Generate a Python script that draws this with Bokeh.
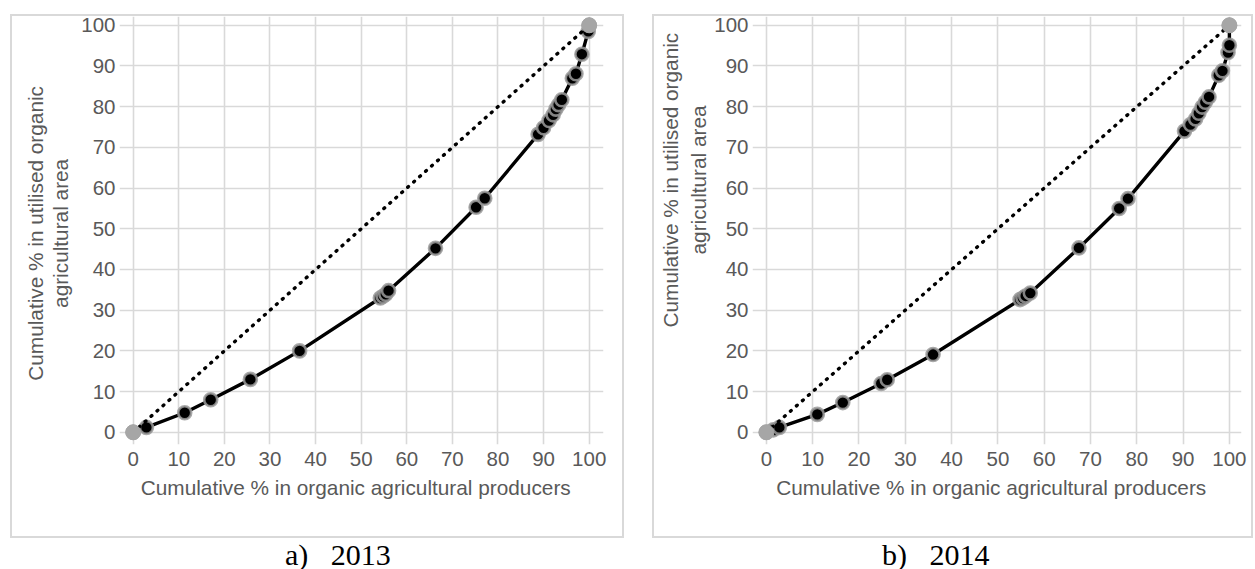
import math
from bokeh.plotting import figure
from bokeh.models import Range1d, SingleIntervalTicker, Title, Div
from bokeh.layouts import row, column
from bokeh.embed import file_html
from bokeh.resources import INLINE

# ---------------- data ----------------
# line of equality
eq_x = [0, 100]
eq_y = [0, 100]

# 2013 Lorenz curve (cumulative % producers, cumulative % area)
x13 = [0, 2.9, 11.3, 17.0, 25.7, 36.5, 54.2, 54.8, 55.4, 56.0, 66.3, 75.2, 77.1,
       88.8, 90.0, 91.2, 92.1, 92.7, 93.3, 94.0, 96.3, 97.1, 98.4, 99.8, 100]
y13 = [0, 1.2, 4.8, 8.0, 13.0, 20.0, 33.0, 33.4, 33.9, 34.8, 45.2, 55.3, 57.5,
       73.2, 74.8, 76.6, 78.0, 79.4, 80.5, 81.7, 87.0, 88.1, 92.9, 98.5, 100]

# 2014 Lorenz curve
x14 = [0, 1.5, 2.8, 11.0, 16.5, 24.8, 26.1, 36.0, 54.8, 55.4, 56.0, 57.0, 67.5,
       76.2, 78.1, 90.3, 91.6, 92.7, 93.4, 94.1, 94.8, 95.6, 97.7, 98.5, 99.7,
       100, 100]
y14 = [0, 0.6, 1.2, 4.4, 7.3, 12.0, 12.9, 19.1, 32.6, 33.0, 33.5, 34.2, 45.3,
       55.0, 57.4, 74.0, 75.6, 77.0, 78.4, 79.9, 81.1, 82.4, 87.7, 88.8, 93.3,
       95.1, 100]

x_title = "Cumulative  % in organic agricultural  producers"
y_title_lines = ["Cumulative  % in utilised organic", "agricultural  area"]
caption_labels = ["a)", "b)"]
caption_years = ["2013", "2014"]

FONT = "Liberation Sans"
TXT = "#595959"
GRID = "#d9d9d9"
TICK_FS = "20.5px"
TITLE_FS = "20.8px"


def panel(xs, ys, W, H, mbl, mbt, fw, fh, xscale, yscale, ytitle_mode, offsets=None):
    mbr = W - mbl - fw
    mbb = H - mbt - fh
    p = figure(width=W, height=H,
               x_range=Range1d(-3, -3 + fw / xscale),
               y_range=Range1d(-3, -3 + fh / yscale),
               output_backend="svg", toolbar_location=None,
               min_border_left=mbl, min_border_right=mbr,
               min_border_top=mbt, min_border_bottom=mbb,
               background_fill_color="white", border_fill_color="white",
               outline_line_color=None)
    p.title = None
    for ax in (p.xaxis[0], p.yaxis[0]):
        ax.ticker = SingleIntervalTicker(interval=10, num_minor_ticks=0)
        ax.axis_line_color = None
        ax.major_tick_line_color = None
        ax.minor_tick_line_color = None
        ax.major_tick_out = 0
        ax.major_label_text_font = FONT
        ax.major_label_text_font_size = TICK_FS
        ax.major_label_text_color = TXT
        ax.axis_label_text_font = FONT
        ax.axis_label_text_font_size = TITLE_FS
        ax.axis_label_text_font_style = "normal"
        ax.axis_label_text_color = TXT
    p.xaxis.major_label_standoff = 7
    p.yaxis.major_label_standoff = 4
    p.xaxis.axis_label = x_title
    p.xaxis.axis_label_standoff = 7
    if ytitle_mode == "axis":
        p.yaxis.axis_label = "\n".join(y_title_lines)
        p.yaxis.axis_label_standoff = 6
        p.yaxis.axis_label_text_line_height = 1.08
    else:
        # inner line first (next to the axis), then the outer line
        for txt, off, so in ((y_title_lines[1], offsets[1], 4),
                             (y_title_lines[0], offsets[0], 2)):
            p.add_layout(Title(text=txt, align="left", offset=off, standoff=so,
                               text_font=FONT, text_font_size=TITLE_FS,
                               text_font_style="normal", text_color=TXT), "left")
    for g in (p.xgrid[0], p.ygrid[0]):
        g.bounds = (0, 100)
        g.grid_line_color = GRID
        g.grid_line_width = 1.6

    p.line(xs, ys, line_color="black", line_width=3.4)
    p.scatter(xs, ys, size=13, fill_color="black", line_color="#9a9a9a",
              line_width=2.6, line_alpha=0.85)
    p.line(eq_x, eq_y, line_color="black", line_width=3.4, line_dash="1 7",
           line_cap="round")
    p.scatter(eq_x, eq_y, size=15, fill_color="#a6a6a6", line_color="#a6a6a6")
    return p


p1 = panel(x13, y13, 626, 536, 115, 8, 484, 428, 4.56, 4.07, "axis")
p1.margin = (8, 0, 0, 4)
p2 = panel(x14, y14, 609, 536, 106, 8, 489, 428, 4.63, 4.07, "title",
           offsets=(117, 190))
p2.margin = (8, 0, 0, 16)


def cap(i, w, ml, frame_left, frame_w):
    # caption text, plus the light-grey chart-area frame of the panel above it
    html = ('<div style="position:relative;top:-4px;font-family:\'Liberation Serif\';'
            'font-size:30px;line-height:29px;color:#000;white-space:nowrap">'
            '<div style="position:absolute;left:%dpx;top:-526px;width:%dpx;height:524px;'
            'box-sizing:border-box;border:2px solid #d9d9d9;pointer-events:none"></div>'
            % (frame_left, frame_w)
            + caption_labels[i] + '&nbsp;&nbsp;&nbsp;' + caption_years[i] + '</div>')
    d = Div(text=html, width=w, height=17)
    d.margin = (0, 0, 0, ml)
    return d


c1 = cap(0, 150, 285, 10 - 285, 614)
c2 = cap(1, 150, 447, 652 - 882, 601)

layout = column(row(p1, p2), row(c1, c2))
open("out.html", "w").write(file_html(layout, INLINE))
